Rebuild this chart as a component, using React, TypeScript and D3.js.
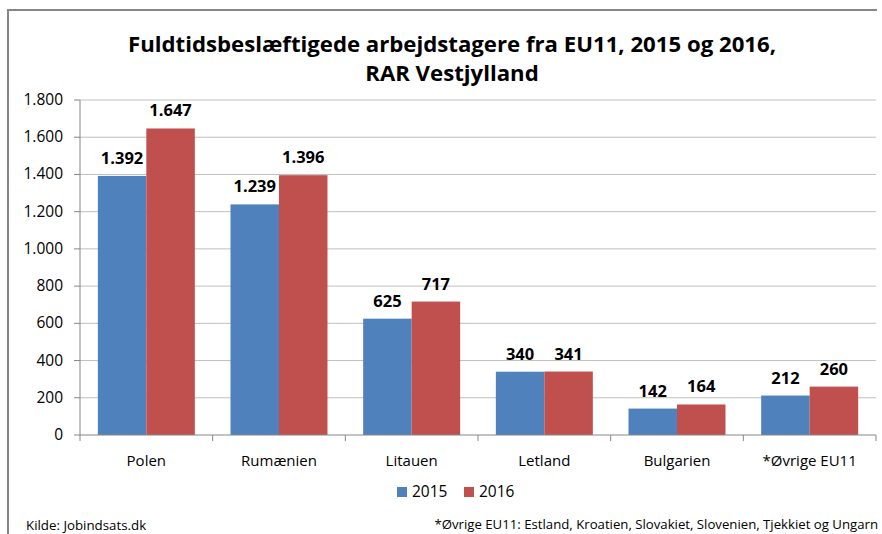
import React from "react";
import * as d3 from "d3";

const categories = ["Polen", "Rumænien", "Litauen", "Letland", "Bulgarien", "*Øvrige EU11"];
const seriesNames = ["2015", "2016"];
const values2015 = [1392, 1239, 625, 340, 142, 212];
const values2016 = [1647, 1396, 717, 341, 164, 260];
const yTicks = [0, 200, 400, 600, 800, 1000, 1200, 1400, 1600, 1800];
const colors = ["#4F81BD", "#C0504D"];

const W = 882, H = 534;
const FONT = "'Open Sans', Lato, 'Liberation Sans', sans-serif";
const fmt = (v: number) => d3.format(",")(v).replace(/,/g, ".");

export default function App() {
  const left = 80, right = 876, top = 100, bottom = 435;
  const x = d3.scaleBand().domain(categories).range([left, right]).paddingInner(0).paddingOuter(0);
  const inner = d3.scaleBand().domain(seriesNames).range([0, x.bandwidth()]).paddingInner(0).paddingOuter(0.368);
  const y = d3.scaleLinear().domain([0, 1800]).range([bottom, top]);
  const series = [values2015, values2016];

  return (
    <svg width={W} height={H} style={{ position: "absolute", left: 0, top: 0, background: "#fff" }} fontFamily={FONT}>
      <rect x={0} y={0} width={W} height={H} fill="#fff" />
      <line x1={8} x2={8} y1={10} y2={H} stroke="#868686" strokeWidth={2} />
      <line x1={7} x2={877} y1={10} y2={10} stroke="#868686" strokeWidth={2} />
      <text x={452} y={52} textAnchor="middle" fontSize={22.2} fontWeight="bold" fill="#000">
        Fuldtidsbeslæftigede arbejdstagere fra EU11, 2015 og 2016,
      </text>
      <text x={452} y={81} textAnchor="middle" fontSize={22.2} fontWeight="bold" fill="#000">
        RAR Vestjylland
      </text>
      {yTicks.map((t) => (
        <g key={t}>
          {t > 0 && <line x1={left} x2={right} y1={y(t)} y2={y(t)} stroke="#BFBFBF" strokeWidth={1} />}
          <line x1={left - 6} x2={left} y1={y(t)} y2={y(t)} stroke="#868686" />
          <text x={63} y={y(t) + 5} textAnchor="end" fontSize={15.5} fill="#000">{fmt(t)}</text>
        </g>
      ))}
      {series.map((vals, si) =>
        vals.map((v, i) => {
          const bx = (x(categories[i]) as number) + (inner(seriesNames[si]) as number);
          const bw = inner.bandwidth();
          return (
            <g key={`${si}-${i}`}>
              <rect x={bx} y={y(v)} width={bw} height={bottom - y(v)} fill={colors[si]} />
              <text x={bx + bw / 2} y={y(v) - 12} textAnchor="middle" fontSize={16.5} fontWeight="bold" fill="#000">{fmt(v)}</text>
            </g>
          );
        })
      )}
      <line x1={left} x2={left} y1={top} y2={bottom} stroke="#868686" />
      <line x1={left} x2={right} y1={bottom} y2={bottom} stroke="#868686" />
      {categories.map((c, i) => (
        <g key={c}>
          <line x1={(x(c) as number)} x2={(x(c) as number)} y1={bottom} y2={bottom + 6} stroke="#868686" />
          {i === categories.length - 1 && <line x1={right} x2={right} y1={bottom} y2={bottom + 6} stroke="#868686" />}
          <text x={(x(c) as number) + x.bandwidth() / 2} y={466} textAnchor="middle" fontSize={15} fill="#000">{c}</text>
        </g>
      ))}
      {seriesNames.map((s, si) => (
        <g key={s} transform={`translate(${397 + si * 67},0)`}>
          <rect x={0} y={487} width={10} height={10} fill={colors[si]} />
          <text x={15} y={497} fontSize={15.5} fill="#000">{s}</text>
        </g>
      ))}
      <text x={26} y={530} fontSize={13.3} fill="#000">Kilde: Jobindsats.dk</text>
      <text x={878} y={529} textAnchor="end" fontSize={13.2} fill="#000">*Øvrige EU11: Estland, Kroatien, Slovakiet, Slovenien, Tjekkiet og Ungarn</text>
    </svg>
  );
}
